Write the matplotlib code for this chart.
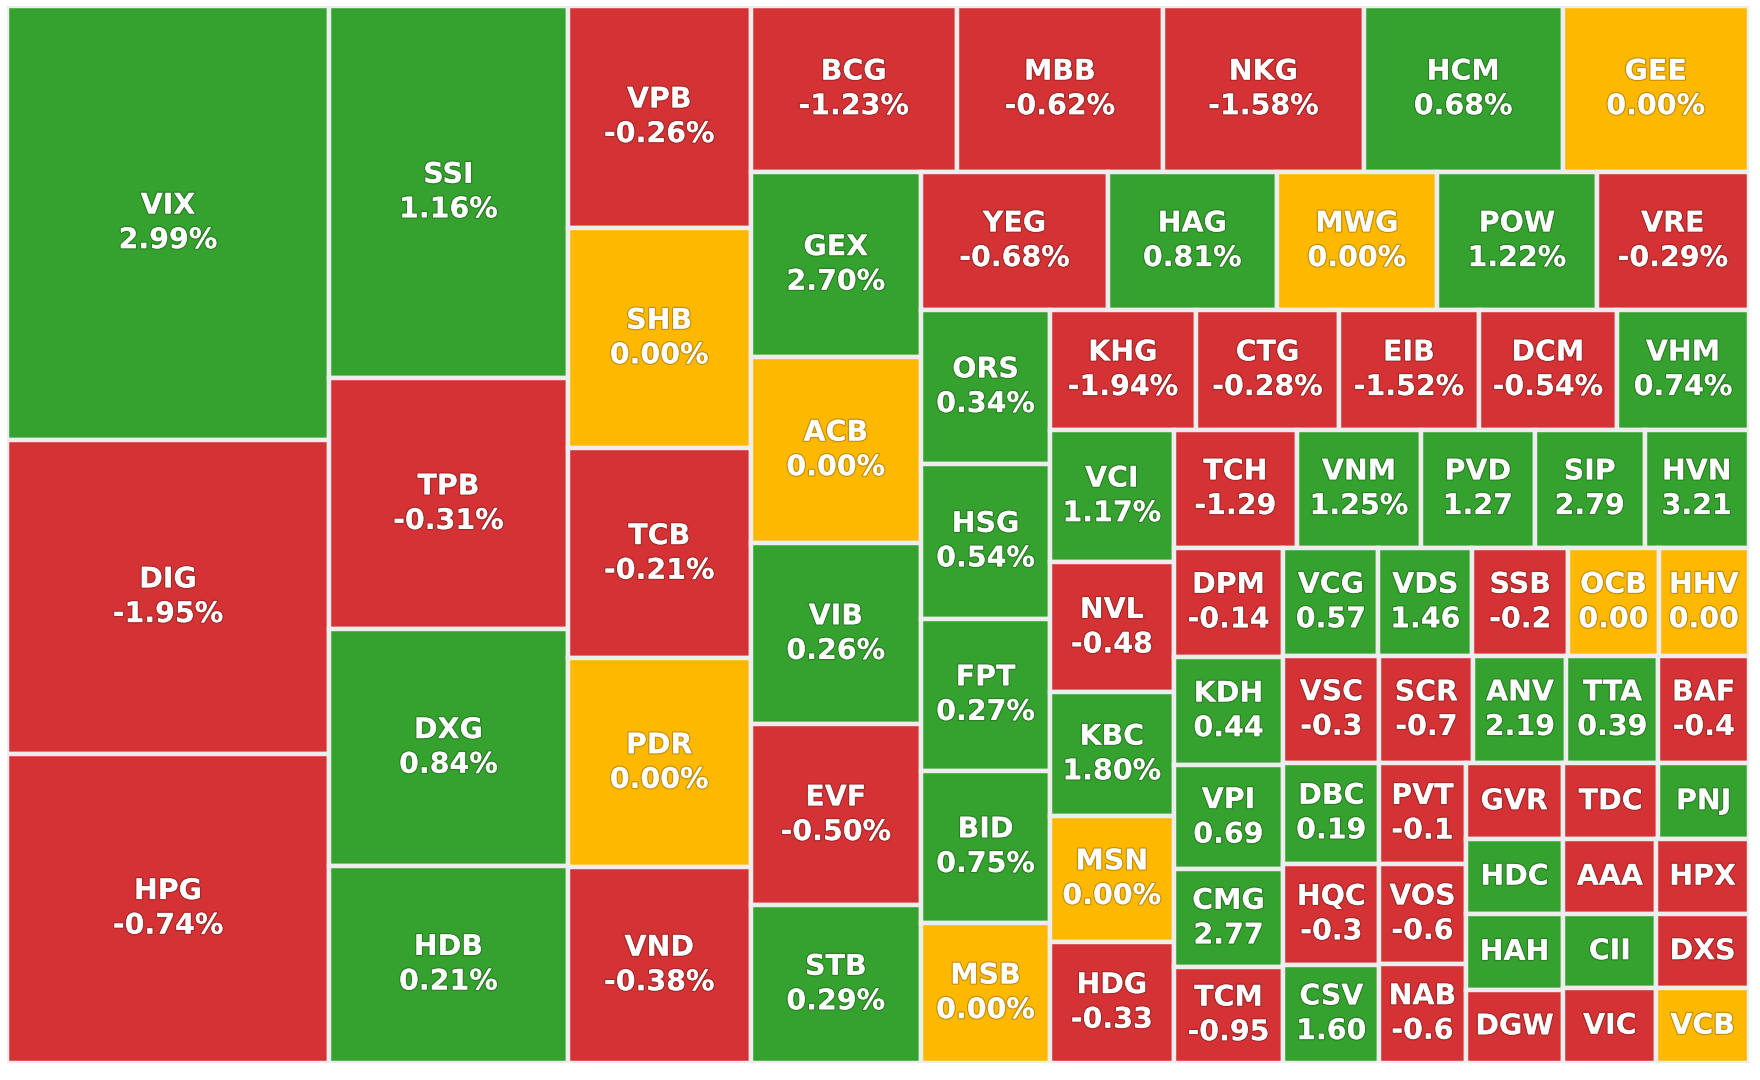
import matplotlib
matplotlib.use('Agg')
import matplotlib.pyplot as plt
import matplotlib.patheffects as pe
from matplotlib.patches import Rectangle

# ---- Data (display order, biggest first) ----
tickers = [
    'VIX', 'DIG', 'HPG', 'SSI', 'TPB', 'DXG', 'HDB', 'VPB', 'SHB', 'TCB',
    'PDR', 'VND', 'BCG', 'MBB', 'NKG', 'HCM', 'GEE', 'GEX', 'ACB', 'VIB',
    'EVF', 'STB', 'YEG', 'HAG', 'MWG', 'POW', 'VRE', 'ORS', 'HSG', 'FPT',
    'BID', 'MSB', 'KHG', 'CTG', 'EIB', 'DCM', 'VHM', 'VCI', 'NVL', 'KBC',
    'MSN', 'HDG', 'TCH', 'VNM', 'PVD', 'SIP', 'HVN', 'DPM', 'KDH', 'VPI',
    'CMG', 'TCM', 'VCG', 'VDS', 'SSB', 'OCB', 'HHV', 'VSC', 'DBC', 'HQC',
    'CSV', 'SCR', 'ANV', 'TTA', 'BAF', 'PVT', 'VOS', 'NAB', 'GVR', 'TDC',
    'PNJ', 'HDC', 'HAH', 'DGW', 'AAA', 'HPX', 'CII', 'VIC', 'DXS', 'VCB',
]

sizes = [
    1111, 804, 792, 707, 477, 449, 375, 322, 321, 305,
    303, 285, 272, 272, 265, 262, 246, 251, 252, 246,
    245, 214, 205, 185, 176, 175, 167, 158, 159, 156,
    156, 144, 139, 137, 133, 132, 126, 130, 128, 121,
    124, 119, 116, 116, 107, 103, 98, 95, 95, 91,
    85, 84, 82, 81, 83, 78, 78, 81, 77, 77,
    75, 80, 79, 78, 77, 69, 69, 68, 59, 58,
    55, 58, 59, 57, 55, 55, 55, 55, 55, 55,
]

change_text = [
    '2.99%', '-1.95%', '-0.74%', '1.16%', '-0.31%', '0.84%', '0.21%', '-0.26%', '0.00%', '-0.21%',
    '0.00%', '-0.38%', '-1.23%', '-0.62%', '-1.58%', '0.68%', '0.00%', '2.70%', '0.00%', '0.26%',
    '-0.50%', '0.29%', '-0.68%', '0.81%', '0.00%', '1.22%', '-0.29%', '0.34%', '0.54%', '0.27%',
    '0.75%', '0.00%', '-1.94%', '-0.28%', '-1.52%', '-0.54%', '0.74%', '1.17%', '-0.48', '1.80%',
    '0.00%', '-0.33', '-1.29', '1.25%', '1.27', '2.79', '3.21', '-0.14', '0.44', '0.69',
    '2.77', '-0.95', '0.57', '1.46', '-0.2', '0.00', '0.00', '-0.3', '0.19', '-0.3',
    '1.60', '-0.7', '2.19', '0.39', '-0.4', '-0.1', '-0.6', '-0.6', '', '',
    '', '', '', '', '', '', '', '', '', '',
]

# U = up, D = down, F = flat
trend = (
    'UDDUDUUDFD'
    'FDDDDUFUFU'
    'DUDUFUDUUU'
    'UFDDDDUUDU'
    'FDDUUUUDUU'
    'UDUUDFFDUD'
    'UDUUDDDDDD'
    'UUUDDDUDDF'
)

# how many tickers go into each strip of the squarified layout
strip_counts = [3, 4, 5, 5, 5, 5, 5, 5, 5, 5, 5, 5, 4, 4, 3, 3, 3, 2, 2, 1, 1]

COLORS = {'U': '#35a22f', 'D': '#d43234', 'F': '#feb800'}


# ---- Treemap layout: each strip is laid along the shorter side ----

def layout_strips(vals, counts, x, y, dx, dy):
    rects = []
    k = 0
    for n in counts:
        strip = vals[k:k + n]
        k += n
        area = sum(strip)
        if dx >= dy:
            w = area / dy
            yy = y
            for v in strip:
                h = v / w
                rects.append((x, yy, w, h))
                yy += h
            x += w
            dx -= w
        else:
            h = area / dx
            xx = x
            for v in strip:
                w = v / h
                rects.append((xx, y, w, h))
                xx += w
            y += h
            dy -= h
    return rects


W, H = 1742.0, 1057.0
total = float(sum(sizes))
norm = [s * W * H / total for s in sizes]
rects = layout_strips(norm, strip_counts, 0.0, 0.0, W, H)

# ---- Plot ----
fig = plt.figure(figsize=(17.6, 10.8), dpi=100)
fig.patch.set_facecolor('white')
ax = fig.add_axes([7 / 1760, (1080 - 1063) / 1080, W / 1760, H / 1080])
ax.set_xlim(0, W)
ax.set_ylim(H, 0)
ax.axis('off')

shadow = [pe.withStroke(linewidth=1.8, foreground=(0, 0, 0, 0.22))]
for (x, y, w, h), name, txt, tr in zip(rects, tickers, change_text, trend):
    ax.add_patch(Rectangle((x, y), w, h, facecolor=COLORS[tr],
                           edgecolor='#ededed', linewidth=3.2))
    label = f'{name}\n{txt}' if txt else name
    ax.text(x + w / 2, y + h / 2, label, ha='center', va='center',
            color='white', fontsize=20.5, fontweight='bold',
            family='DejaVu Sans', linespacing=1.3, path_effects=shadow)

fig.savefig('out.png', dpi=100, facecolor='white')
plt.close(fig)
